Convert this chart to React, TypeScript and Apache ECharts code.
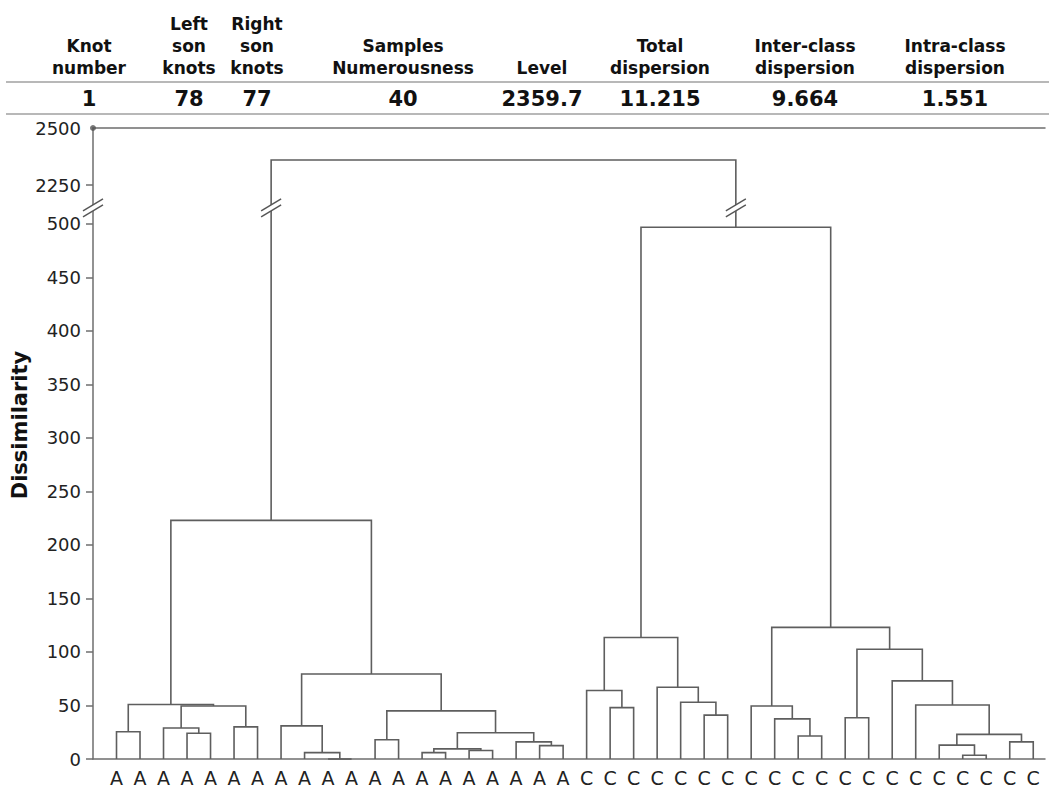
import React, { useEffect, useRef } from "react";
import * as echarts from "echarts";

// ---------- data ----------
const leafLabels = [
  "A", "A", "A", "A", "A", "A", "A", "A", "A", "A",
  "A", "A", "A", "A", "A", "A", "A", "A", "A", "A",
  "C", "C", "C", "C", "C", "C", "C", "C", "C", "C",
  "C", "C", "C", "C", "C", "C", "C", "C", "C", "C",
];

// linkage rows: [left child id, right child id, dissimilarity]
// ids 0..39 are leaves, id 40 + k is the node made by row k
const merges: [number, number, number][] = [
  [0, 1, 25.5],     // 40
  [3, 4, 24],       // 41
  [2, 41, 29],      // 42
  [5, 6, 30],       // 43
  [42, 43, 49.5],   // 44
  [40, 44, 51],     // 45
  [9, 10, 0],       // 46
  [8, 46, 6],       // 47
  [7, 47, 31],      // 48
  [11, 12, 18],     // 49
  [13, 14, 6],      // 50
  [15, 16, 8],      // 51
  [50, 51, 9.5],    // 52
  [18, 19, 12.5],   // 53
  [17, 53, 16],     // 54
  [52, 54, 24.5],   // 55
  [49, 55, 45],     // 56
  [48, 56, 79.5],   // 57
  [45, 57, 223],    // 58
  [21, 22, 48],     // 59
  [20, 59, 64],     // 60
  [25, 26, 41],     // 61
  [24, 61, 53],     // 62
  [23, 62, 67],     // 63
  [60, 63, 113.5],  // 64
  [29, 30, 21.5],   // 65
  [28, 65, 37.5],   // 66
  [27, 66, 49.5],   // 67
  [31, 32, 38.5],   // 68
  [36, 37, 3.5],    // 69
  [35, 69, 13],     // 70
  [38, 39, 16],     // 71
  [70, 71, 23],     // 72
  [34, 72, 50.5],   // 73
  [33, 73, 73],     // 74
  [68, 74, 102.5],  // 75
  [67, 75, 123],    // 76
  [64, 76, 497],    // 77
  [58, 77, 2359.7], // 78
];

const yTicks = [0, 50, 100, 150, 200, 250, 300, 350, 400, 450, 500, 2250, 2500];

const headerLabels = [
  ["Knot", "number"],
  ["Left", "son", "knots"],
  ["Right", "son", "knots"],
  ["Samples", "Numerousness"],
  ["Level"],
  ["Total", "dispersion"],
  ["Inter-class", "dispersion"],
  ["Intra-class", "dispersion"],
];
const headerValues = ["1", "78", "77", "40", "2359.7", "11.215", "9.664", "1.551"];

// ---------- layout / scale helpers ----------
const headerCenters = [89, 189, 257, 403, 542, 660, 805, 955];
const BREAK_FROM = 500;
const BREAK_TO = 2250;
const BREAK_GAP = 36.4; // axis units kept for the break
const UPPER_RATIO = 0.2132; // compression of the upper segment
const BREAK_MARK_Y = 515;
const T = (v: number) =>
  v <= BREAK_FROM ? v : BREAK_FROM + BREAK_GAP + (v - BREAK_TO) * UPPER_RATIO;

const N_LEAVES = leafLabels.length;
const xPos: number[] = leafLabels.map((_, i) => i);
const hPos: number[] = leafLabels.map(() => 0);
merges.forEach(([l, r, h]) => {
  xPos.push((xPos[l] + xPos[r]) / 2);
  hPos.push(h);
});
const [rootL, rootR] = merges[merges.length - 1];

const FONT = "DejaVu Sans";
const LINE = "#5e5e5e";
const AXIS = "#6e6e6e";

export default function App() {
  const ref = useRef<HTMLDivElement>(null);
  useEffect(() => {
    if (!ref.current) return;
    const chart = echarts.init(ref.current, null, { renderer: "svg" });

    const graphic: any[] = [];
    headerLabels.forEach((lines, c) => {
      const n = lines.length;
      lines.forEach((t, j) => {
        graphic.push({
          type: "text",
          x: headerCenters[c],
          y: 68 - (n - 1 - j) * 22,
          style: {
            text: t,
            font: `bold 17px "${FONT}"`,
            fill: "#111",
            textAlign: "center",
            textVerticalAlign: "middle",
          },
        });
      });
      graphic.push({
        type: "text",
        x: headerCenters[c],
        y: 99,
        style: {
          text: headerValues[c],
          font: `bold 21px "${FONT}"`,
          fill: "#111",
          textAlign: "center",
          textVerticalAlign: "middle",
        },
      });
    });
    [82, 114].forEach((y) =>
      graphic.push({
        type: "line",
        shape: { x1: 6, y1: y, x2: 1049, y2: y },
        style: { stroke: "#a0a0a0", lineWidth: 1.5 },
      })
    );
    graphic.push({
      type: "text",
      x: 20,
      y: 425,
      rotation: Math.PI / 2,
      style: {
        text: "Dissimilarity",
        font: `bold 21px "${FONT}"`,
        fill: "#111",
        textAlign: "center",
        textVerticalAlign: "middle",
      },
    });

    const tickVals = yTicks.map(T);

    chart.setOption({
      animation: false,
      graphic,
      grid: { left: 93, right: 4, top: 128, bottom: 33, containLabel: false },
      xAxis: [
        {
          type: "value",
          min: -1,
          max: 39.5,
          position: "bottom",
          axisLine: { show: true, onZero: false, lineStyle: { color: AXIS, width: 1.5 } },
          axisTick: { show: false },
          splitLine: { show: false },
          axisLabel: {
            customValues: leafLabels.map((_, i) => i),
            formatter: (v: number) => leafLabels[Math.round(v)] ?? "",
            fontFamily: FONT,
            fontSize: 19,
            color: "#222",
            margin: 9,
          },
        },
        {
          type: "value",
          min: -1,
          max: 39.5,
          position: "top",
          axisLine: { show: true, onZero: false, lineStyle: { color: AXIS, width: 1.5 } },
          axisTick: { show: false },
          splitLine: { show: false },
          axisLabel: { show: false },
        },
      ],
      yAxis: {
        type: "value",
        min: 0,
        max: T(2500),
        position: "left",
        axisLine: { show: true, onZero: false, lineStyle: { color: AXIS, width: 1.5 } },
        axisTick: {
          show: true,
          customValues: tickVals.slice(0, -1),
          length: 7,
          lineStyle: { color: AXIS, width: 1.5 },
        },
        splitLine: { show: false },
        axisLabel: {
          customValues: tickVals,
          formatter: (v: number) => {
            const i = tickVals.findIndex((t) => Math.abs(t - v) < 0.01);
            return i >= 0 ? String(yTicks[i]) : "";
          },
          fontFamily: FONT,
          fontSize: 18,
          color: "#222",
          margin: 12,
        },
      },
      series: [
        {
          type: "custom",
          name: "dendrogram",
          coordinateSystem: "cartesian2d",
          clip: false,
          encode: { x: 0, y: 1 },
          data: merges.map((m, k) => [xPos[N_LEAVES + k], T(m[2]), k]),
          renderItem: (params: any, api: any) => {
            const k = api.value(2);
            const [l, r, h] = merges[k];
            const pts = [
              api.coord([xPos[l], T(hPos[l])]),
              api.coord([xPos[l], T(h)]),
              api.coord([xPos[r], T(h)]),
              api.coord([xPos[r], T(hPos[r])]),
            ];
            return {
              type: "polyline",
              shape: { points: pts },
              style: { stroke: LINE, lineWidth: 1.6, fill: "none" },
            };
          },
          z: 2,
        },
        {
          type: "custom",
          name: "breaks",
          coordinateSystem: "cartesian2d",
          clip: false,
          encode: { x: 0, y: 1 },
          data: [
            [-1, BREAK_MARK_Y],
            [xPos[rootL], BREAK_MARK_Y],
            [xPos[rootR], BREAK_MARK_Y],
          ],
          renderItem: (params: any, api: any) => {
            const [px, py] = api.coord([api.value(0), api.value(1)]);
            return {
              type: "group",
              children: [
                {
                  type: "polygon",
                  shape: {
                    points: [
                      [px - 10, py + 9],
                      [px + 10, py - 3],
                      [px + 10, py - 9],
                      [px - 10, py + 3],
                    ],
                  },
                  style: { fill: "#fff", stroke: "none" },
                },
                {
                  type: "line",
                  shape: { x1: px - 10, y1: py + 9, x2: px + 10, y2: py - 3 },
                  style: { stroke: "#555", lineWidth: 1.4 },
                },
                {
                  type: "line",
                  shape: { x1: px - 10, y1: py + 3, x2: px + 10, y2: py - 9 },
                  style: { stroke: "#555", lineWidth: 1.4 },
                },
              ],
            };
          },
          z: 5,
        },
        {
          type: "scatter",
          name: "axisTop",
          xAxisIndex: 0,
          data: [[-1, T(2500)]],
          symbolSize: 6,
          itemStyle: { color: "#555" },
          silent: true,
          z: 6,
        },
      ],
    });
    return () => chart.dispose();
  }, []);

  return (
    <div
      ref={ref}
      style={{ position: "absolute", left: 0, top: 0, width: 1049, height: 792, background: "#fff" }}
    />
  );
}
